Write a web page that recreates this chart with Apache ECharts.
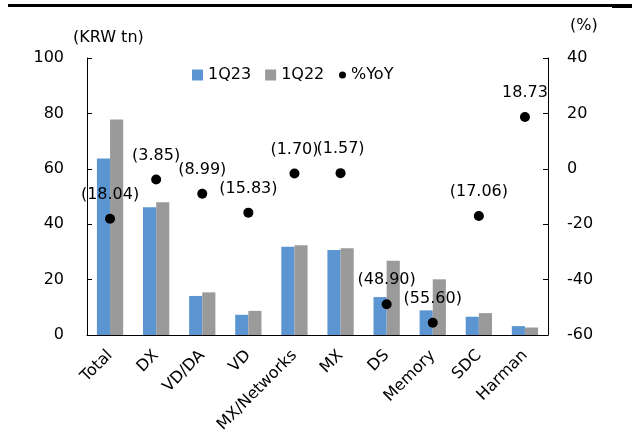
<!DOCTYPE html>
<html><head><meta charset="utf-8">
<script src="https://cdn.jsdelivr.net/npm/echarts@6/dist/echarts.min.js"></script>
<style>html,body{margin:0;padding:0;background:#fff}#c{width:632px;height:436px}</style>
</head><body><div id="c"></div>
<script>
const categories = ['Total','DX','VD/DA','VD','MX/Networks','MX','DS','Memory','SDC','Harman'];
const q123 = [63.75, 46.1, 14.1, 7.3, 31.9, 30.7, 13.7, 8.9, 6.6, 3.2];
const q122 = [77.78, 47.9, 15.4, 8.7, 32.4, 31.3, 26.8, 20.1, 7.9, 2.7];
const yoy = [-18.04, -3.85, -8.99, -15.83, -1.70, -1.57, -48.90, -55.60, -17.06, 18.73];
const leftTicks = [0, 20, 40, 60, 80, 100];
const rightTicks = [-60, -40, -20, 0, 20, 40];
const leftUnit = '(KRW tn)';
const rightUnit = '(%)';

const F = 'DejaVu Sans';
const chart = echarts.init(document.getElementById('c'));
const fmt = v => v < 0 ? '(' + Math.abs(v).toFixed(2) + ')' : v.toFixed(2);
chart.setOption({
  animation: false,
  textStyle: {fontFamily: F, color: '#000'},
  graphic: [
    {type: 'rect', shape: {x: 8, y: 4, width: 606, height: 3}, style: {fill: '#000'}},
    {type: 'rect', shape: {x: 612, y: 4, width: 20, height: 4}, style: {fill: '#000'}},
    {type: 'text', left: 73, top: 30, style: {text: leftUnit, font: '16px "DejaVu Sans"', fill: '#000'}},
    {type: 'text', left: 570, top: 18, style: {text: rightUnit, font: '16px "DejaVu Sans"', fill: '#000'}}
  ],
  legend: [{
    top: 62, left: 187, itemGap: 14, itemWidth: 11, itemHeight: 11,
    textStyle: {fontFamily: F, fontSize: 16, color: '#000'},
    data: [{name: '1Q23', icon: 'rect'}, {name: '1Q22', icon: 'rect'}]
  }, {
    top: 62, left: 334, itemWidth: 7, itemHeight: 7,
    textStyle: {fontFamily: F, fontSize: 16, color: '#000'},
    data: [{name: '%YoY', icon: 'circle'}]
  }],
  grid: {left: 87, right: 84, top: 58, bottom: 101},
  xAxis: {
    type: 'category', data: categories,
    axisLine: {lineStyle: {color: '#000'}},
    axisTick: {inside: true, length: 5, lineStyle: {color: '#000'}},
    axisLabel: {rotate: 45, fontFamily: F, fontSize: 16, color: '#000', margin: 18}
  },
  yAxis: [{
    type: 'value', min: 0, max: 100, interval: 20, position: 'left',
    axisLine: {show: true, lineStyle: {color: '#000'}},
    axisTick: {show: true, inside: true, length: 5, lineStyle: {color: '#000'}},
    axisLabel: {fontFamily: F, fontSize: 16, color: '#000', margin: 23,
      formatter: v => leftTicks.includes(v) ? String(v) : ''},
    splitLine: {show: false}
  }, {
    type: 'value', min: -60, max: 40, interval: 20, position: 'right',
    axisLine: {show: true, lineStyle: {color: '#000'}},
    axisTick: {show: true, inside: true, length: 5, lineStyle: {color: '#000'}},
    axisLabel: {fontFamily: F, fontSize: 16, color: '#000', margin: 19,
      formatter: v => rightTicks.includes(v) ? String(v) : ''},
    splitLine: {show: false}
  }],
  series: [{
    name: '1Q23', type: 'bar', data: q123, barGap: '0%', barCategoryGap: '43%',
    itemStyle: {color: '#5B96D2'}
  }, {
    name: '1Q22', type: 'bar', data: q122,
    itemStyle: {color: '#9A9A9A'}
  }, {
    name: '%YoY', type: 'scatter', yAxisIndex: 1, data: yoy, symbolSize: 10,
    itemStyle: {color: '#000', opacity: 1},
    label: {show: true, position: 'top', distance: 11, fontFamily: F, fontSize: 16, color: '#000',
      formatter: p => fmt(p.value)}
  }]
});
</script></body></html>
